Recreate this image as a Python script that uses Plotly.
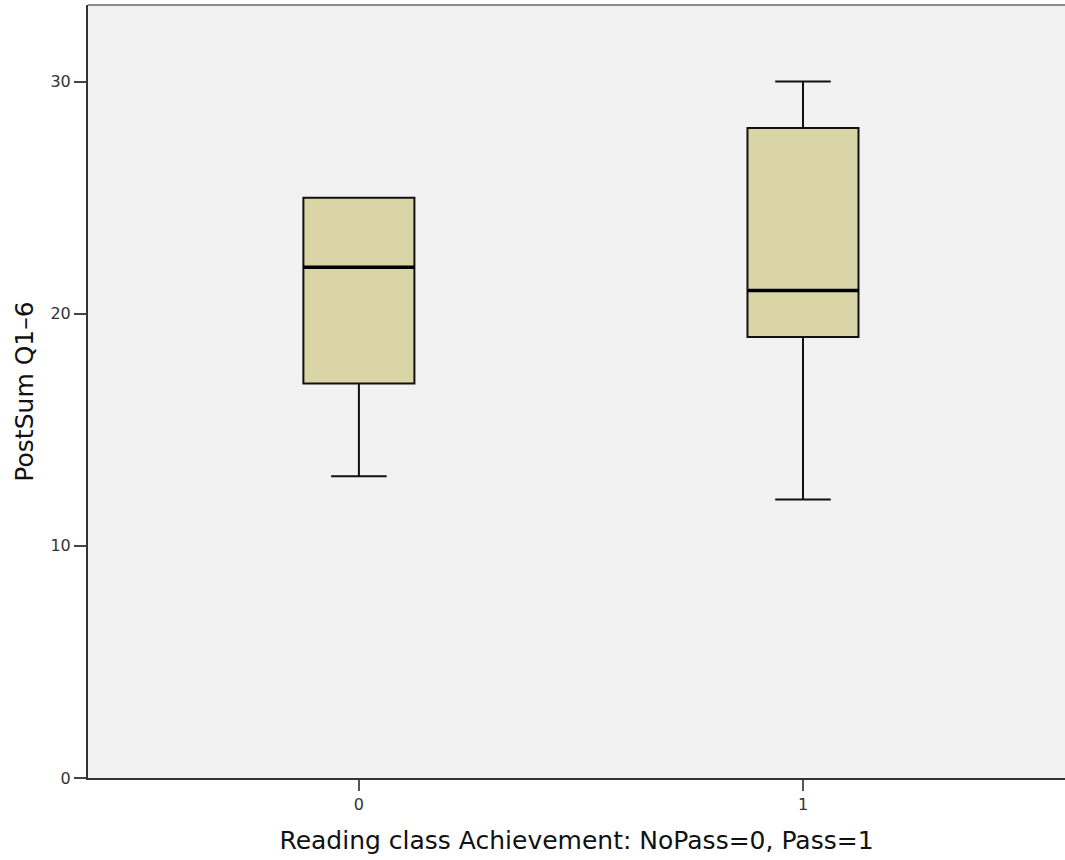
import plotly.graph_objects as go

# Summary statistics per achievement group
groups = [0, 1]
tick_labels = ["0", "1"]
lower_whisker = [13, 12]
q1 = [17, 19]
median = [22, 21]
q3 = [25, 28]
upper_whisker = [25, 30]

box_fill = "#d9d5a7"
box_width = 0.25

fig = go.Figure()
fig.add_trace(go.Box(
    x=groups,
    q1=q1,
    median=median,
    q3=q3,
    lowerfence=lower_whisker,
    upperfence=upper_whisker,
    width=box_width,
    whiskerwidth=0.5,
    fillcolor=box_fill,
    line=dict(color="#111111", width=2),
    boxpoints=False,
    hoverinfo="skip",
    showlegend=False,
))

# Heavier median bars drawn over each box
for g, m in zip(groups, median):
    fig.add_trace(go.Scatter(
        x=[g - box_width / 2, g + box_width / 2],
        y=[m, m],
        mode="lines",
        line=dict(color="#000000", width=3.4),
        hoverinfo="skip",
        showlegend=False,
    ))

font_family = "DejaVu Sans"

fig.update_layout(
    width=1065,
    height=860,
    margin=dict(l=88, r=0, t=5, b=82),
    paper_bgcolor="white",
    plot_bgcolor="#f2f2f2",
    font=dict(family=font_family, color="#222222"),
    xaxis=dict(
        range=[-0.61, 1.59],
        tickmode="array",
        tickvals=groups,
        ticktext=tick_labels,
        ticks="outside",
        ticklen=11,
        tickwidth=2,
        tickcolor="#555555",
        tickfont=dict(size=16, color="#333333"),
        showgrid=False,
        zeroline=False,
        showline=True,
        linecolor="#333333",
        linewidth=2,
        title=dict(
            text="Reading class Achievement: NoPass=0, Pass=1",
            font=dict(size=25, color="#111111"),
            standoff=18,
        ),
    ),
    yaxis=dict(
        range=[0, 33.3],
        tickmode="array",
        tickvals=[0, 10, 20, 30],
        ticktext=["0", "10", "20", "30"],
        ticks="outside",
        ticklen=12,
        tickwidth=2,
        tickcolor="#444444",
        tickfont=dict(size=16, color="#333333"),
        showgrid=False,
        zeroline=False,
        showline=True,
        linecolor="#333333",
        linewidth=2,
        title=dict(
            text="PostSum Q1\u20136",
            font=dict(size=25, color="#111111"),
            standoff=10,
        ),
    ),
    shapes=[
        dict(type="line", xref="paper", yref="paper", x0=0, x1=1, y0=1, y1=1,
             line=dict(color="#8a8a8a", width=2)),
    ],
)

fig.write_html("out.html")
